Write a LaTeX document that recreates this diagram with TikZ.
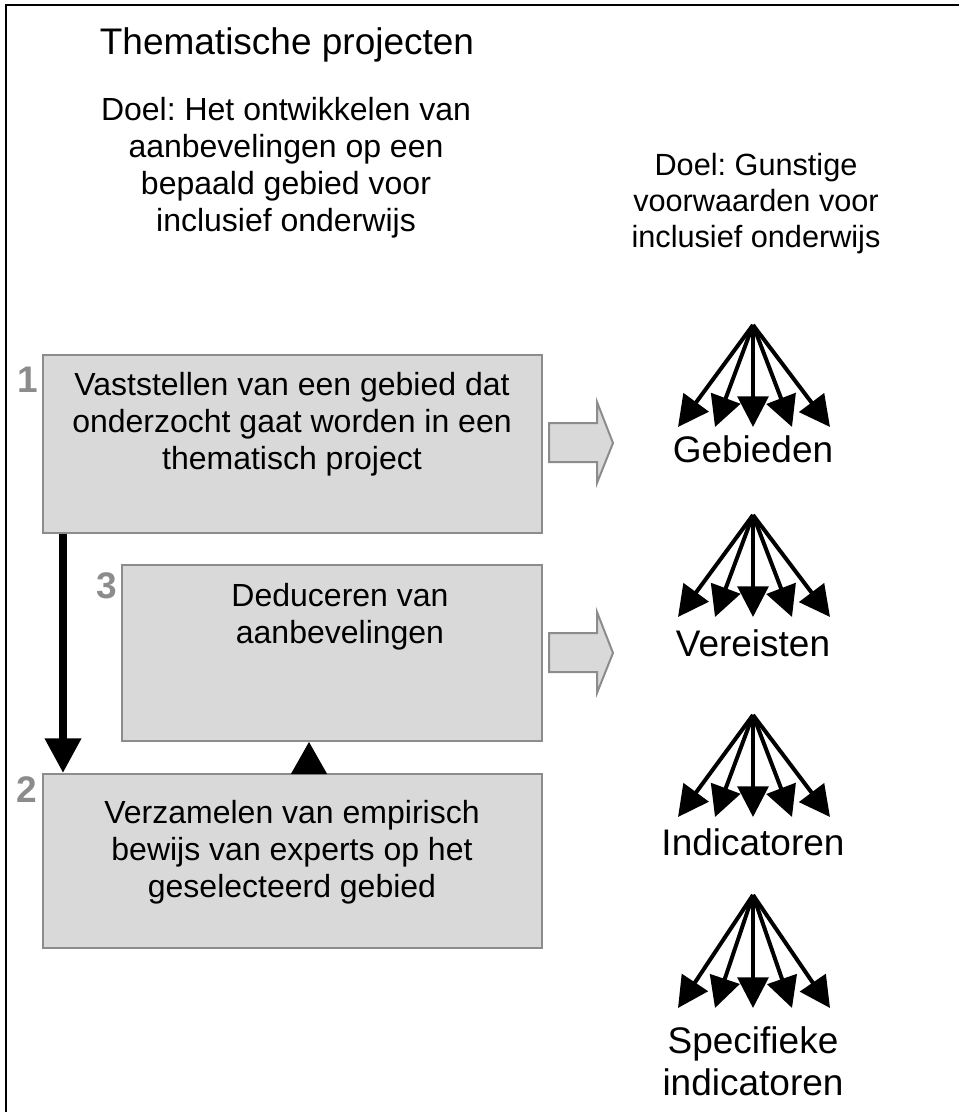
\documentclass[tikz,border=0pt]{standalone}
\usepackage{fontspec}
\setmainfont{Liberation Sans}
\usetikzlibrary{arrows.meta}
\frenchspacing

\tikzset{every picture/.style={line width=0.75pt}}
\tikzset{
  stepbox/.style={draw={rgb, 255:red, 140; green, 140; blue, 140}, line width=1.5pt, fill={rgb, 255:red, 217; green, 217; blue, 217}, inner sep=0pt},
  stepnum/.style={text={rgb, 255:red, 140; green, 140; blue, 140}, font=\fontsize{27.75}{30}\selectfont\bfseries, inner sep=0.75pt, anchor=base},
  steptext/.style={font=\fontsize{24}{27.75}\selectfont, inner sep=0.75pt, anchor=base, align=center},
  fanlabel/.style={font=\fontsize{27.75}{31.5}\selectfont, inner sep=0.75pt, anchor=base, align=center},
  fan/.style={line width=3pt, -{Triangle[length=23pt,width=23pt]}},
  flow/.style={line width=6pt, -{Triangle[length=26pt,width=26pt]}},
  uptip/.style={line width=0.75pt, -{Triangle[length=24pt,width=27pt]}},
  blockarrow/.style={draw={rgb, 255:red, 140; green, 140; blue, 140}, line width=1.5pt, fill={rgb, 255:red, 217; green, 217; blue, 217}}
}

\begin{document}
\begin{tikzpicture}[x=0.75pt,y=0.75pt,yscale=-1,xscale=1]
\useasboundingbox (0,0) rectangle (958,1112);

%Shape: Frame
\draw [line width=1.5pt] (6,1200) -- (6,5) -- (1000,5) ;

% Text Node
\draw (287,55) node [anchor=base][inner sep=0.75pt] [font=\fontsize{27.75}{30}\selectfont] (title) {Thematische projecten};
% Text Node (base = last line)
\draw (286,232) node [steptext] (doelleft) {Doel: Het ontwikkelen van\\aanbevelingen op een\\bepaald gebied voor\\inclusief onderwijs};
% Text Node
\draw (756,248) node [steptext] [font=\fontsize{23}{27}\selectfont] (doelright) {Doel: Gunstige\\voorwaarden voor\\inclusief onderwijs};

%Shape: Rectangle [step 1]
\node [stepbox, minimum width=374.25pt, minimum height=133.5pt] (box1) at (292.5,444) {};
%Shape: Rectangle [step 3]
\node [stepbox, minimum width=315pt, minimum height=132pt] (box3) at (332,653) {};
%Shape: Rectangle [step 2]
\node [stepbox, minimum width=374.25pt, minimum height=130.5pt] (box2) at (292.5,861) {};

% Text Node
\draw (292,469) node [steptext] (text1) {Vaststellen van een gebied dat\\onderzocht gaat worden in een\\thematisch project};
% Text Node
\draw (340,643) node [steptext] (text3) {Deduceren van\\aanbevelingen};
% Text Node
\draw (292,897) node [steptext] (text2) {Verzamelen van empirisch\\bewijs van experts op het\\geselecteerd gebied};

% Text Node
\draw (28,392) node [stepnum] (num1) {1};
% Text Node
\draw (107,598) node [stepnum] (num3) {3};
% Text Node
\draw (27,802) node [stepnum] (num2) {2};

%Straight Lines [step 1 to step 2]
\draw [flow] ([xshift=15.75pt]box1.south west) -- ([xshift=15.75pt]box1.south west |- box2.north) ;
%Straight Lines [step 2 to step 3]
\draw [uptip] ([xshift=141pt]box3.south west |- box2.north) -- ([xshift=141pt]box3.south west) ;

%Shape: Right Arrow
\foreach \ty in {443,653}{
  \draw [blockarrow] (549,\ty-20) -- (597,\ty-20) -- (597,\ty-41) -- (613,\ty) -- (597,\ty+40) -- (597,\ty+19) -- (549,\ty+19) -- cycle ;
}

%Fans
\foreach \ay/\h/\nm in {325/102/geb, 515/102/ver, 715/102/ind, 895/113/spec}{
  \coordinate (\nm) at (753,\ay);
  \foreach \dx [count=\i] in {-75,-38,0,39,77}{
    \path (\nm) ++(\dx,\h) coordinate (\nm\i);
    \draw [fan] (\nm) -- (\nm\i);
  }
}

% Text Node
\draw (753,462) node [fanlabel] (gebieden) {Gebieden};
% Text Node
\draw (753,656) node [fanlabel] (vereisten) {Vereisten};
% Text Node
\draw (753,855) node [fanlabel] (indicatoren) {Indicatoren};
% Text Node
\draw (753,1095) node [fanlabel] (specifiek) {Specifieke\\indicatoren};

\end{tikzpicture}
\end{document}
